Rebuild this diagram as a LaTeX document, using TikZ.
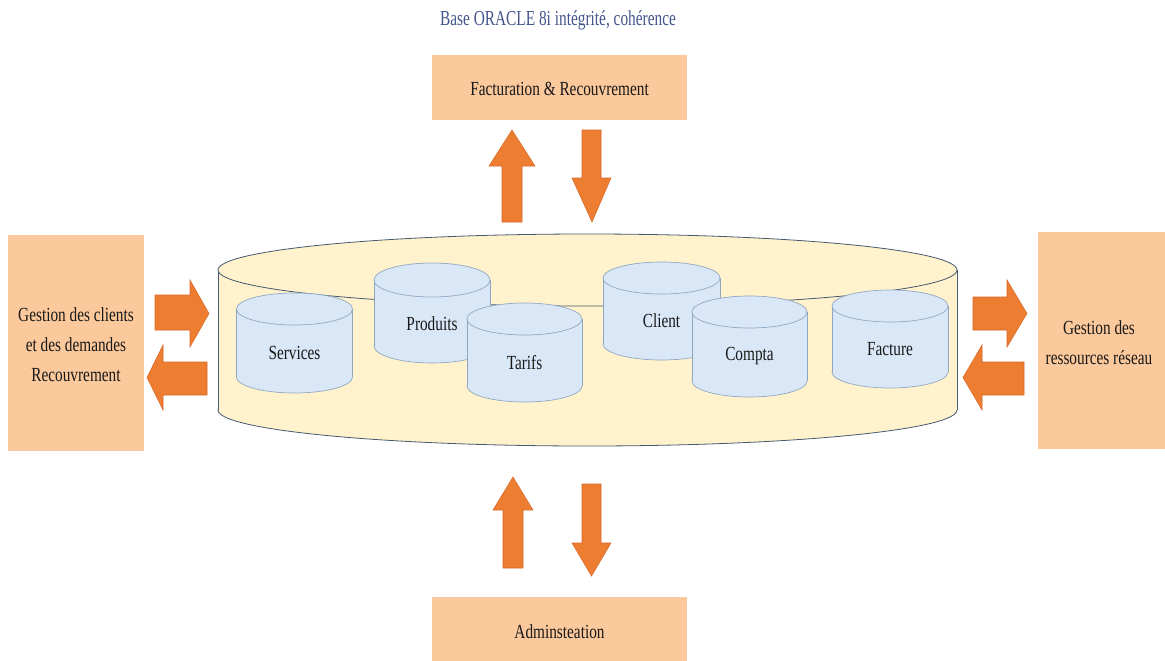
\documentclass[tikz,border=0pt]{standalone}
\usepackage{fontspec}
\setmainfont{Liberation Serif}[FakeStretch=0.765]
\newfontfamily\titlefont{Liberation Serif}[FakeStretch=0.72]
\definecolor{boxfill}{HTML}{FBC99B}
\definecolor{arrowfill}{HTML}{ED7D31}
\definecolor{arrowedge}{HTML}{D9692A}
\definecolor{basefill}{HTML}{FFF2CC}
\definecolor{baseedge}{HTML}{44596F}
\definecolor{tablefill}{HTML}{DAE7F6}
\definecolor{tableedge}{HTML}{8DA7C2}
\definecolor{titleblue}{HTML}{44558C}
\tikzset{
  modulebox/.style={fill=boxfill},
  modtext/.style={font=\fontsize{15}{22.5}\selectfont, align=center, text=black!90},
  blockarrow/.style={fill=arrowfill, draw=arrowedge, line width=0.4pt, line join=miter},
}
% vertical table cylinder: #1 name, #2 centre x, #3 top y, #4 bottom y, #5 x radius, #6 y radius, #7 label
\newcommand\tablecyl[7]{%
  \filldraw[fill=tablefill, draw=tableedge, line width=0.5pt] (#2,#4) ellipse [x radius=#5, y radius=#6];
  \fill[tablefill] (#2-#5,#3) rectangle (#2+#5,#4);
  \draw[tableedge, line width=0.5pt] (#2-#5,#3) -- (#2-#5,#4) (#2+#5,#3) -- (#2+#5,#4);
  \filldraw[fill=tablefill, draw=tableedge, line width=0.5pt] (#2,#3) ellipse [x radius=#5, y radius=#6];
  \node[modtext] (#1) at (#2,{(#3+#6+#4)/2+2}) {#7};
}
\begin{document}
\begin{tikzpicture}[x=0.75pt, y=-0.75pt]
\useasboundingbox (0,0) rectangle (1165,661);

% title
\node[font=\titlefont\fontsize{16}{18}\selectfont, text=titleblue] (title) at (558,20) {Base ORACLE 8i intégrité, cohérence};

% surrounding modules
\fill[modulebox] (432,55) rectangle (687,120);
\node[modtext] (fact) at (559.5,89) {Facturation \& Recouvrement};
\fill[modulebox] (8,235) rectangle (144,451);
\node[modtext] (clients) at (76,345) {Gestion des clients\\et des demandes\\Recouvrement};
\fill[modulebox] (1038,232) rectangle (1170,449);
\node[modtext] (reseau) at (1099,343) {Gestion des\\ressources réseau};
\fill[modulebox] (432,597) rectangle (687,666);
\node[modtext] (admin) at (559.5,632) {Adminsteation};

% central database cylinder
\filldraw[fill=basefill, draw=baseedge, line width=0.6pt] (587.5,410) ellipse [x radius=369.5, y radius=36];
\fill[basefill] (218,270) rectangle (957,410);
\draw[baseedge, line width=0.6pt] (218,270) -- (218,410) (957,270) -- (957,410);
\filldraw[fill=basefill, draw=baseedge, line width=0.6pt] (587.5,270) ellipse [x radius=369.5, y radius=36];

% tables inside the database
\tablecyl{services}{294.5}{309}{377}{58}{16}{Services}
\tablecyl{produits}{432}{280}{346}{58}{17}{Produits}
\tablecyl{tarifs}{524.5}{319}{386}{57.5}{16}{Tarifs}
\tablecyl{client}{661.5}{278}{344}{58.5}{16}{Client}
\tablecyl{compta}{749.5}{312}{381}{57.5}{16}{Compta}
\tablecyl{facture}{890}{306}{372}{58}{16}{Facture}

% exchanges with Facturation & Recouvrement
\draw[blockarrow] (512,130) -- (535,166) -- (522,166) -- (522,222) -- (502,222) -- (502,166) -- (489,166) -- cycle;
\draw[blockarrow] (592,222) -- (572,178) -- (582,178) -- (582,130) -- (601,130) -- (601,178) -- (611,178) -- cycle;

% exchanges with Adminsteation
\draw[blockarrow] (513,477) -- (533,510) -- (523,510) -- (523,568) -- (503,568) -- (503,510) -- (493,510) -- cycle;
\draw[blockarrow] (591.5,576) -- (572,543) -- (582,543) -- (582,484) -- (601,484) -- (601,543) -- (611,543) -- cycle;

% exchanges with Gestion des clients
\draw[blockarrow] (209,313.5) -- (190,280) -- (190,295) -- (155,295) -- (155,330) -- (190,330) -- (190,347) -- cycle;
\draw[blockarrow] (147,377.5) -- (163,345) -- (163,362) -- (207,362) -- (207,395) -- (163,395) -- (163,410) -- cycle;

% exchanges with Gestion des ressources réseau
\draw[blockarrow] (1027,313.5) -- (1007,280) -- (1007,297) -- (973,297) -- (973,330) -- (1007,330) -- (1007,347) -- cycle;
\draw[blockarrow] (963,377.5) -- (982,345) -- (982,362) -- (1024,362) -- (1024,395) -- (982,395) -- (982,410) -- cycle;
\end{tikzpicture}
\end{document}
